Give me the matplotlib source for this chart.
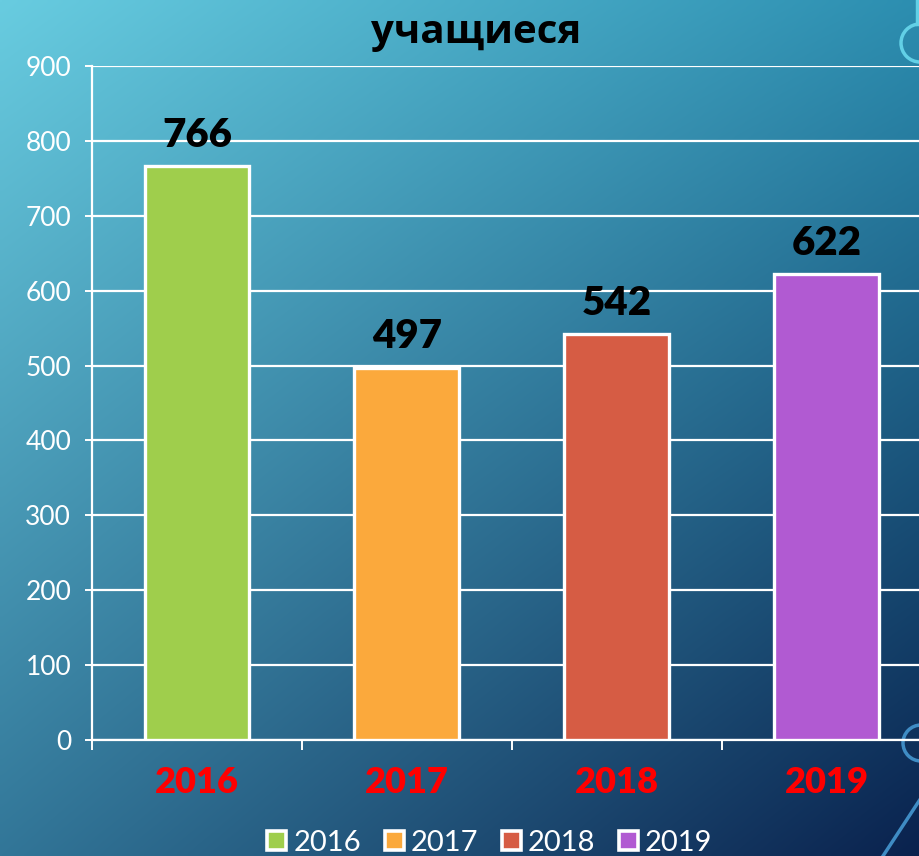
import numpy as np
import matplotlib
matplotlib.use("Agg")
import matplotlib.pyplot as plt
from matplotlib.patches import Patch, Circle

title = "учащиеся"
categories = ["2016", "2017", "2018", "2019"]
values = [766, 497, 542, 622]
bar_colors = ["#9fce4c", "#fba93c", "#d65c44", "#b15ad2"]
y_ticks = [0, 100, 200, 300, 400, 500, 600, 700, 800, 900]

W, H = 920, 856
fig = plt.figure(figsize=(W / 100, H / 100), dpi=100)

# background gradient
bg = fig.add_axes([0, 0, 1, 1], zorder=-10)
bg.set_axis_off()
tl = np.array([104, 204, 224]) / 255
tr = np.array([44, 142, 176]) / 255
bl = np.array([50, 118, 152]) / 255
br = np.array([10, 34, 78]) / 255
ny, nx = 200, 200
u = np.linspace(0, 1, nx)[None, :, None]
v = np.linspace(0, 1, ny)[:, None, None]
img = (1 - u) * (1 - v) * tl + u * (1 - v) * tr + (1 - u) * v * bl + u * v * br
bg.imshow(img, extent=[0, 1, 0, 1], aspect="auto", origin="upper", interpolation="bilinear")
bg.set_xlim(0, 1)
bg.set_ylim(0, 1)

deco = fig.add_axes([0, 0, 1, 1], zorder=-5)
deco.set_axis_off()
deco.set_xlim(0, W)
deco.set_ylim(H, 0)
deco.add_patch(Circle((920, 43), 19, fill=False, ec="#62d0e6", lw=2.5))
deco.plot([917, 917], [0, 24], color="#62d0e6", lw=2.5)
deco.add_patch(Circle((921, 743), 18, fill=False, ec="#3f8cc4", lw=2.5))
deco.plot([921, 883], [798, 856], color="#3f8cc4", lw=2.5)

ax = fig.add_axes([92 / W, 1 - 740 / H, 840 / W, 674 / H])
ax.set_facecolor("none")
x = np.arange(len(categories))
ax.bar(x, values, width=0.5, color=bar_colors, edgecolor="white", linewidth=2.4, zorder=3)
ax.set_xlim(-0.5, 3.5)
ax.set_ylim(0, 900)
ax.set_yticks(y_ticks)
ax.yaxis.grid(True, color="white", lw=1.6, zorder=0)
ax.set_axisbelow(True)
for s in ["top", "right"]:
    ax.spines[s].set_visible(False)
for s in ["left", "bottom"]:
    ax.spines[s].set_color("white")
    ax.spines[s].set_linewidth(1.6)

ax.tick_params(axis="y", colors="white", length=5, width=1.4, pad=10, labelsize=19)
for lab in ax.get_yticklabels():
    lab.set_fontfamily(["Lato", "DejaVu Sans"])
    lab.set_fontweight("normal")
    lab.set_color("white")

ax.set_xticks(x)
ax.set_xticklabels(categories, fontsize=26, fontweight="heavy", color="#ff0000",
                   fontfamily=["Lato", "DejaVu Sans"])
ax.tick_params(axis="x", which="major", length=0, pad=19)
ax.set_xticks(np.arange(-0.5, 3.6, 1.0), minor=True)
ax.tick_params(axis="x", which="minor", length=7, width=1.4, color="white")

for xi, v_ in zip(x, values):
    ax.annotate(str(v_), (xi, v_), xytext=(0, 14), textcoords="offset points",
                ha="center", va="baseline", fontsize=29, fontweight="heavy",
                color="black", fontfamily=["Lato", "DejaVu Sans"])

fig.text(476 / W, 1 - 43 / H, title, ha="center", va="baseline", fontsize=29,
         fontweight="bold", color="black", fontfamily=["Open Sans", "DejaVu Sans"])

handles = [Patch(facecolor=c, edgecolor="white", linewidth=2.6) for c in bar_colors]
leg = fig.legend(handles, categories, loc="center", bbox_to_anchor=(490 / W, 1 - 843 / H),
                 ncol=4, frameon=False, fontsize=21, handlelength=0.65, handleheight=0.65,
                 handletextpad=0.25, columnspacing=0.8, borderpad=0)
for t in leg.get_texts():
    t.set_color("white")
    t.set_fontfamily(["Lato", "DejaVu Sans"])
    t.set_fontweight("normal")

fig.savefig("out.png", dpi=100)
